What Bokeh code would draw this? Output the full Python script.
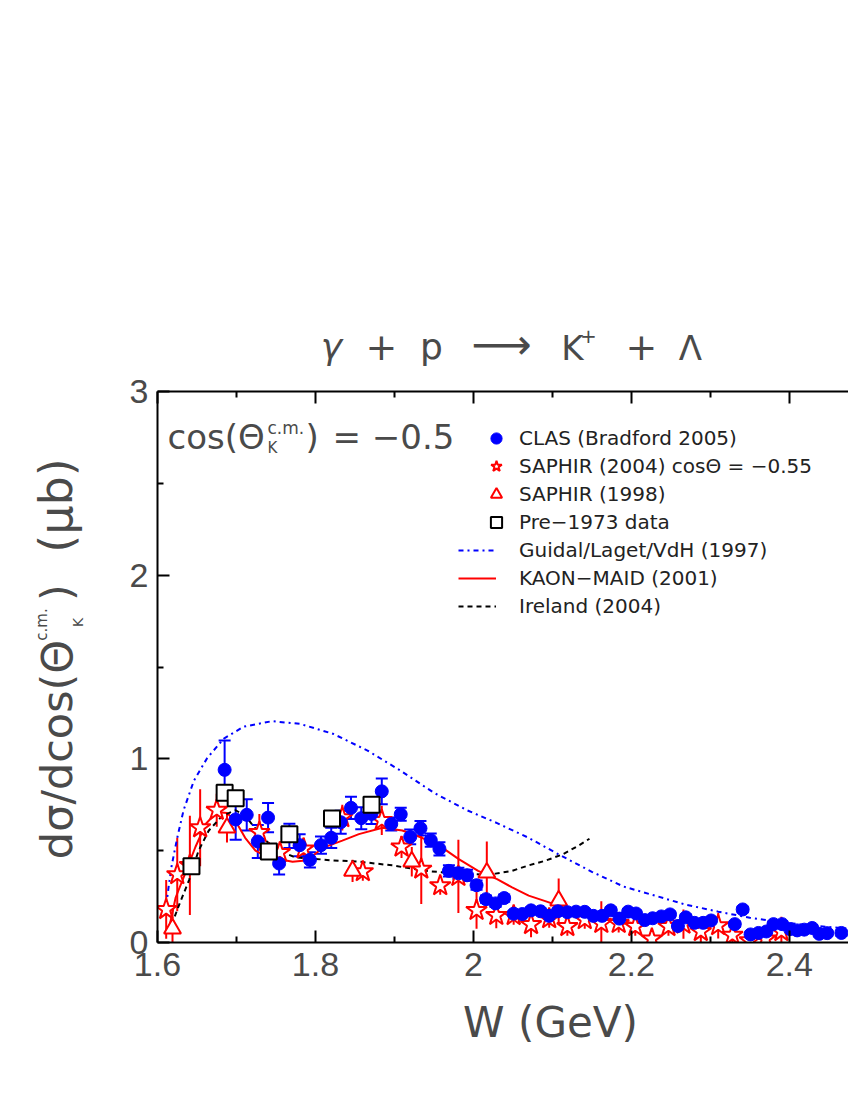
import numpy as np
from bokeh.plotting import figure
from bokeh.layouts import column, row
from bokeh.models import (ColumnDataSource, Range1d, LinearAxis, FixedTicker,
                          Whisker, TeeHead, Label, Legend, LegendItem)
from bokeh.embed import file_html
from bokeh.resources import INLINE

# ---------------- data ----------------
clas_w = [1.685, 1.699, 1.713, 1.727, 1.740, 1.754, 1.767, 1.780, 1.793, 1.807,
          1.820, 1.832, 1.845, 1.858, 1.871, 1.884, 1.896, 1.908, 1.920, 1.933,
          1.946, 1.957, 1.969, 1.981, 1.992, 2.004, 2.016, 2.028, 2.039, 2.051,
          2.062, 2.073, 2.085, 2.096, 2.107, 2.119, 2.130, 2.141, 2.152, 2.163,
          2.174, 2.185, 2.196, 2.206, 2.217, 2.227, 2.238, 2.249, 2.259, 2.269,
          2.280, 2.291, 2.301, 2.331, 2.341, 2.351, 2.361, 2.371, 2.380, 2.391,
          2.401, 2.410, 2.419, 2.429, 2.438, 2.448, 2.466]
clas_y = [0.94, 0.67, 0.695, 0.55, 0.68, 0.43, 0.58, 0.53, 0.45, 0.53,
          0.57, 0.655, 0.733, 0.677, 0.70, 0.823, 0.645, 0.698, 0.575, 0.622,
          0.557, 0.51, 0.39, 0.377, 0.366, 0.312, 0.236, 0.213, 0.242, 0.157,
          0.155, 0.175, 0.17, 0.145, 0.17, 0.165, 0.168, 0.167, 0.145, 0.145,
          0.175, 0.13, 0.168, 0.158, 0.122, 0.132, 0.142, 0.153, 0.09, 0.137,
          0.107, 0.107, 0.12, 0.10, 0.18, 0.044, 0.052, 0.06, 0.10, 0.10,
          0.073, 0.066, 0.07, 0.079, 0.047, 0.051, 0.052]
clas_err = [0.16, 0.11, 0.085, 0.09, 0.08, 0.06, 0.066, 0.06, 0.042, 0.047,
            0.055, 0.063, 0.06, 0.06, 0.055, 0.07, 0.035, 0.035, 0.04, 0.04,
            0.036, 0.036, 0.03, 0.03, 0.03, 0.025, 0.02, 0.02, 0.02, 0.015,
            0.015, 0.015, 0.015, 0.015, 0.015, 0.015, 0.015, 0.015, 0.015, 0.015,
            0.015, 0.015, 0.015, 0.015, 0.015, 0.015, 0.015, 0.015, 0.015, 0.015,
            0.015, 0.015, 0.015, 0.015, 0.015, 0.015, 0.015, 0.015, 0.015, 0.015,
            0.015, 0.015, 0.015, 0.015, 0.015, 0.015, 0.015]

saphir04_w = [1.611, 1.625, 1.641, 1.654, 1.675, 1.729, 1.755, 1.785, 1.834, 1.860,
              1.884, 1.909, 1.934, 1.958, 1.981, 2.004, 2.029, 2.051, 2.073, 2.096,
              2.119, 2.141, 2.162, 2.184, 2.205, 2.226, 2.247, 2.266, 2.288, 2.310,
              2.328, 2.350, 2.370, 2.390]
saphir04_y = [0.18, 0.37, 0.42, 0.625, 0.72, 0.60, 0.49, 0.51, 0.68, 0.386,
              0.665, 0.52, 0.40, 0.31, 0.36, 0.175, 0.148, 0.147, 0.098, 0.13,
              0.087, 0.125, 0.104, 0.104, 0.087, 0.02, 0.087, 0.10, 0.06, 0.092,
              0.04, 0.01, 0.02, 0.06]
saphir04_err = [0.16, 0.20, 0.27, 0.21, 0.09, 0.10, 0.06, 0.06, 0.07, 0.05,
                0.08, 0.06, 0.19, 0.05, 0.20, 0.10, 0.07, 0.05, 0.07, 0.05,
                0.05, 0.05, 0.12, 0.05, 0.05, 0.05, 0.05, 0.08, 0.07, 0.07,
                0.04, 0.05, 0.05, 0.08]

saphir98_w = [1.619, 1.688, 1.741, 1.847, 1.922, 2.017, 2.108]
saphir98_y = [0.076, 0.625, 0.49, 0.39, 0.44, 0.38, 0.228]
saphir98_err = [0.12, 0.08, 0.04, 0.06, 0.08, 0.17, 0.12]

old_w = [1.643, 1.685, 1.699, 1.741, 1.767, 1.821, 1.871]
old_y = [0.415, 0.815, 0.785, 0.495, 0.59, 0.675, 0.75]

guidal_w = [1.611, 1.614, 1.618, 1.625, 1.633, 1.646, 1.663, 1.684, 1.709, 1.745,
            1.781, 1.823, 1.866, 1.908, 1.950, 1.992, 2.030, 2.070, 2.110, 2.150,
            2.190, 2.230, 2.270, 2.310, 2.350, 2.390, 2.430, 2.475]
guidal_y = [0.20, 0.30, 0.42, 0.57, 0.72, 0.88, 1.005, 1.11, 1.175, 1.205,
            1.19, 1.135, 1.045, 0.935, 0.815, 0.72, 0.65, 0.57, 0.475, 0.385,
            0.305, 0.255, 0.205, 0.168, 0.135, 0.11, 0.092, 0.075]

maid_w = [1.614, 1.623, 1.635, 1.648, 1.661, 1.675, 1.688, 1.699, 1.711, 1.724,
          1.737, 1.753, 1.771, 1.784, 1.796, 1.809, 1.834, 1.855, 1.885, 1.910,
          1.935, 1.961, 1.981, 2.006, 2.030, 2.049, 2.070, 2.091, 2.108, 2.125,
          2.142, 2.163, 2.184, 2.205]
maid_y = [0.065, 0.245, 0.375, 0.52, 0.645, 0.71, 0.705, 0.66, 0.57, 0.50,
          0.47, 0.455, 0.44, 0.445, 0.47, 0.515, 0.555, 0.59, 0.625, 0.61,
          0.57, 0.515, 0.455, 0.39, 0.345, 0.30, 0.255, 0.225, 0.20, 0.174,
          0.157, 0.136, 0.12, 0.103]

ireland_w = [1.614, 1.626, 1.640, 1.652, 1.665, 1.682, 1.699, 1.711, 1.724, 1.737,
             1.753, 1.775, 1.800, 1.819, 1.855, 1.897, 1.939, 1.981, 2.010, 2.028,
             2.049, 2.070, 2.091, 2.113, 2.133, 2.147]
ireland_y = [0.05, 0.19, 0.34, 0.50, 0.61, 0.69, 0.72, 0.69, 0.62, 0.555,
             0.50, 0.463, 0.455, 0.448, 0.44, 0.42, 0.39, 0.375, 0.37, 0.375,
             0.39, 0.42, 0.445, 0.48, 0.527, 0.565]

x_tick_vals = [1.6, 1.8, 2.0, 2.2, 2.4]
x_tick_labels = ["1.6", "1.8", "2", "2.2", "2.4"]
x_minor_vals = [1.7, 1.9, 2.1, 2.3]
y_tick_vals = [0, 1, 2, 3]
y_minor_vals = [0.5, 1.5, 2.5]

legend_labels = ["CLAS (Bradford 2005)", "SAPHIR (2004) cos\u0398 = \u22120.55",
                 "SAPHIR (1998)", "Pre\u22121973 data", "Guidal/Laget/VdH (1997)",
                 "KAON\u2212MAID (2001)", "Ireland (2004)"]

# ---------------- page layout (px) ----------------
PAGE_W = 848
TOP_H = 370          # title strip
MID_H = 628          # main plot strip
BOT_H = 82           # x-label strip
YL_W = 100           # y-label strip width
FL, FT, FR, FB = 157, 391, 848, 942   # frame edges on the page

X0, X1 = 1.6, 2.475
Y0, Y1 = 0.0, 3.0

TXT = "#4a4a4a"
FONT = "DejaVu Sans"
TICKFONT = "Liberation Sans"
MID = 0.35           # distance (em) from baseline to the middle of a text line


def text_fig(w, h, xr, yr):
    f = figure(width=w, height=h, x_range=Range1d(*xr), y_range=Range1d(*yr),
               output_backend="svg", toolbar_location=None,
               x_axis_type=None, y_axis_type=None, min_border=0, title=None)
    f.outline_line_color = None
    f.grid.visible = False
    f.border_fill_color = "white"
    return f


def plab(f, px, py, text, size, align="center", rotated=False, style="normal"):
    """px, py: page position of the text baseline (start/centre per align)."""
    if rotated:
        x, y, ang = px - MID * size, py, np.pi / 2
    else:
        x, y, ang = px, py - MID * size, 0.0
    f.add_layout(Label(x=x, y=y, text=text, text_font=FONT,
                       text_font_size=f"{size}px", text_font_style=style,
                       text_align=align, text_baseline="middle",
                       angle=ang, text_color=TXT))

# ---------------- main plot ----------------
p = figure(width=PAGE_W - YL_W, height=MID_H, title=None,
           x_range=Range1d(X0, X1), y_range=Range1d(Y0, Y1),
           output_backend="svg", toolbar_location=None,
           min_border_left=FL - YL_W, min_border_right=PAGE_W - FR,
           min_border_top=FT - TOP_H, min_border_bottom=TOP_H + MID_H - FB)
p.outline_line_color = None
p.grid.visible = False
p.border_fill_color = "white"


def style_axis(ax, labels=True):
    ax.axis_line_width = 2
    ax.axis_line_color = "black"
    ax.major_tick_line_width = 2
    ax.minor_tick_line_width = 2
    ax.major_tick_in = 12
    ax.major_tick_out = 0
    ax.minor_tick_in = 6
    ax.minor_tick_out = 0
    ax.major_label_text_font = TICKFONT
    if labels:
        ax.major_label_text_color = TXT
        ax.major_label_text_font_size = "34px"
    else:
        ax.major_label_text_color = None
        ax.major_label_text_font_size = "1px"


xa = p.xaxis[0]
xa.ticker = FixedTicker(ticks=x_tick_vals, minor_ticks=x_minor_vals)
xa.major_label_overrides = dict(zip(x_tick_vals, x_tick_labels))
xa.major_label_standoff = 10
style_axis(xa)

ya = p.yaxis[0]
ya.ticker = FixedTicker(ticks=y_tick_vals, minor_ticks=y_minor_vals)
ya.major_label_standoff = 9
style_axis(ya)

top = LinearAxis(ticker=FixedTicker(ticks=x_tick_vals, minor_ticks=x_minor_vals))
style_axis(top, labels=False)
top.major_label_standoff = 0
p.add_layout(top, "above")

# theory curves
r_guidal = p.line(guidal_w, guidal_y, line_color="#0000ff", line_width=2,
                  line_dash="5 4 2 4")
r_maid = p.line(maid_w, maid_y, line_color="#ff0000", line_width=2)
r_ireland = p.line(ireland_w, ireland_y, line_color="black", line_width=2,
                   line_dash="5 4")


def err_source(w, y, e):
    y = np.asarray(y)
    e = np.asarray(e)
    return ColumnDataSource(dict(w=w, y=y, lo=y - e, hi=y + e))


s04 = err_source(saphir04_w, saphir04_y, saphir04_err)
s98 = err_source(saphir98_w, saphir98_y, saphir98_err)
scl = err_source(clas_w, clas_y, clas_err)

for src in (s04, s98):
    p.add_layout(Whisker(source=src, base="w", lower="lo", upper="hi",
                         line_color="#ff0000", line_width=2,
                         lower_head=None, upper_head=None))
p.add_layout(Whisker(source=scl, base="w", lower="lo", upper="hi",
                     line_color="#0000ff", line_width=2,
                     lower_head=TeeHead(size=12, line_color="#0000ff", line_width=2),
                     upper_head=TeeHead(size=12, line_color="#0000ff", line_width=2)))

r_s04 = p.scatter("w", "y", source=s04, marker="star", size=22,
                  line_color="#ff0000", line_width=2, fill_color="white")
r_s98 = p.scatter("w", "y", source=s98, marker="triangle", size=17,
                  line_color="#ff0000", line_width=2, fill_color="white")
r_clas = p.scatter("w", "y", source=scl, marker="circle", size=13,
                   line_color="#0000ff", fill_color="#0000ff")
r_old = p.scatter(old_w, old_y, marker="square", size=16,
                  line_color="black", line_width=2, fill_color="white")

# legends (two blocks: markers, then lines)
leg1 = Legend(items=[LegendItem(label=legend_labels[0], renderers=[r_clas]),
                     LegendItem(label=legend_labels[1], renderers=[r_s04]),
                     LegendItem(label=legend_labels[2], renderers=[r_s98]),
                     LegendItem(label=legend_labels[3], renderers=[r_old])],
              location=(481 - FL, FB - 536), glyph_width=30, glyph_height=28,
              label_height=28, label_standoff=8)
leg2 = Legend(items=[LegendItem(label=legend_labels[4], renderers=[r_guidal]),
                     LegendItem(label=legend_labels[5], renderers=[r_maid]),
                     LegendItem(label=legend_labels[6], renderers=[r_ireland])],
              location=(458 - FL, FB - 620), glyph_width=38, glyph_height=28,
              label_height=28, label_standoff=23)
for lg in (leg1, leg2):
    lg.padding = 0
    lg.margin = 0
    lg.spacing = 0
    lg.border_line_color = None
    lg.background_fill_alpha = 0
    lg.label_text_font = FONT
    lg.label_text_font_size = "20px"
    lg.label_text_color = "#222222"
    p.add_layout(lg, "center")


def xd(px):
    return X0 + (px - FL) * (X1 - X0) / (FR - FL)


def yd(py):
    return Y0 + (FB - py) * (Y1 - Y0) / (FB - FT)


def mlab(px, py, text, size):
    p.add_layout(Label(x=xd(px), y=yd(py - MID * size), text=text, text_font=FONT,
                       text_font_size=f"{size}px", text_align="left",
                       text_baseline="middle", text_color=TXT))

# in-plot annotation  cos(Theta_K^c.m.) = -0.5
mlab(167, 448, "cos(\u0398", 34)
mlab(267, 433, "c.m.", 17)
mlab(267, 453, "K", 15)
mlab(305, 448, ")", 34)
mlab(332, 448, "= \u22120.5", 34)

# ---------------- title strip (frame = whole strip) ----------------
ft = text_fig(PAGE_W, TOP_H, (0, PAGE_W), (TOP_H, 0))
plab(ft, 331, 359, "\u03b3", 36, style="italic")
plab(ft, 381, 359, "+", 38)
plab(ft, 431, 359, "p", 36)
plab(ft, 501, 359, "\u27f6", 42)
plab(ft, 572, 359, "K", 34)
plab(ft, 588, 342, "+", 20)
plab(ft, 641, 359, "+", 38)
plab(ft, 690, 359, "\u039b", 34)

# ---------------- y-label strip (its frame is aligned with the main frame) ----
fy = text_fig(YL_W, MID_H, (0, YL_W), (FB, FT))
plab(fy, 72, 749, "d\u03c3/dcos(\u0398", 43, rotated=True)
plab(fy, 47, 624, "c.m.", 15, rotated=True)
plab(fy, 82, 622, "K", 14, rotated=True)
plab(fy, 72, 592, ")", 43, rotated=True)
plab(fy, 72, 505, "(\u03bcb)", 46, rotated=True)

# ---------------- x-label strip ----------------
fx = text_fig(PAGE_W, BOT_H, (0, PAGE_W), (TOP_H + MID_H + BOT_H, TOP_H + MID_H))
plab(fx, 550, 1037, "W (GeV)", 42)

layout = column(ft, row(fy, p), fx)
open("out.html", "w").write(file_html(layout, INLINE))
